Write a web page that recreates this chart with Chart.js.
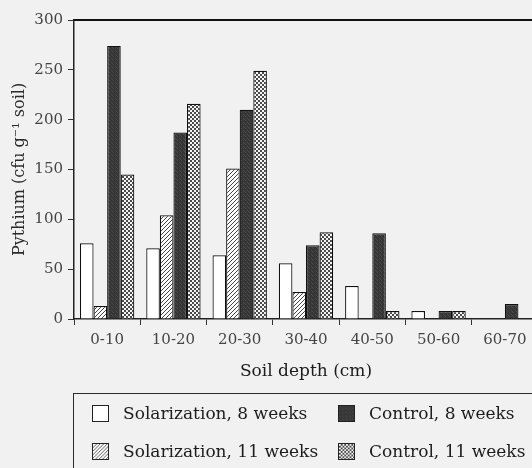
<!DOCTYPE html>
<html><head><meta charset="utf-8">
<script src="https://cdn.jsdelivr.net/npm/chart.js@4"></script>
<style>
html,body{margin:0;padding:0;background:#f1f1f1;overflow:hidden;width:532px;height:468px;}
#wrap{position:relative;width:532px;height:468px;overflow:hidden;}
#c{position:absolute;left:0;top:0;width:540px;height:468px;}
#legend{position:absolute;left:73px;top:393px;width:520px;height:140px;border:1.5px solid #2a2a2a;box-sizing:border-box;font-family:'DejaVu Serif',serif;font-size:17px;color:#1c1c1c;}
.item{position:absolute;display:flex;align-items:center;white-space:nowrap;height:20px;}
.item canvas{border:1.5px solid #222;box-sizing:border-box;margin-right:14px;width:17px;height:17px;}
</style></head>
<body><div id="wrap"><canvas id="c" width="540" height="468"></canvas><div id="legend"></div></div>
<script>
const categories = ['0-10','10-20','20-30','30-40','40-50','50-60','60-70'];
const seriesLabels = ['Solarization, 8 weeks','Solarization, 11 weeks','Control, 8 weeks','Control, 11 weeks'];
const solar8  = [76, 71, 64, 56, 33, 8, 0];
const solar11 = [13, 104, 151, 27, 0, 0, 0];
const ctrl8   = [274, 187, 210, 74, 86, 8, 15];
const ctrl11  = [145, 216, 249, 87, 8, 8, 0];
const yTicks  = [0, 50, 100, 150, 200, 250, 300];

function tile(draw, n){
  const c=document.createElement('canvas'); c.width=c.height=n;
  const g=c.getContext('2d'); draw(g); return c;
}
const whiteTile = tile(g=>{g.fillStyle='#fff';g.fillRect(0,0,4,4);},4);
const hatchTile = tile(g=>{
  g.fillStyle='#fff';g.fillRect(0,0,4,4);
  g.strokeStyle='#444';g.lineWidth=1;g.beginPath();
  g.moveTo(0,4);g.lineTo(4,0);g.moveTo(-1,1);g.lineTo(1,-1);g.moveTo(3,5);g.lineTo(5,3);g.stroke();
},4);
const darkTile = tile(g=>{
  g.fillStyle='#363636';g.fillRect(0,0,4,4);
  g.fillStyle='#4a4a4a';g.fillRect(1,0,1,1);g.fillRect(3,2,1,1);g.fillRect(0,3,1,1);
},4);
const crossTile = tile(g=>{
  g.fillStyle='#4a4a4a';g.fillRect(0,0,4,4);
  g.fillStyle='#f4f4f4';g.fillRect(0,0,2,2);g.fillRect(2,2,2,2);
},4);
const tiles=[whiteTile,hatchTile,darkTile,crossTile];
const ctx=document.getElementById('c').getContext('2d');
const pats=tiles.map(t=>ctx.createPattern(t,'repeat'));
const values=[solar8,solar11,ctrl8,ctrl11];

const tickFont={family:'DejaVu Serif', size:15};
const topLine={id:'topLine',afterDraw(chart){
  const {ctx,chartArea}=chart; ctx.save(); ctx.strokeStyle='#111'; ctx.lineWidth=2;
  ctx.beginPath(); ctx.moveTo(chartArea.left,chartArea.top); ctx.lineTo(chartArea.right,chartArea.top);
  ctx.lineTo(chartArea.right,chartArea.bottom); ctx.stroke(); ctx.restore();
}};

new Chart(ctx,{
  type:'bar',
  data:{labels:categories,datasets:values.map((v,i)=>({label:seriesLabels[i],data:v,backgroundColor:pats[i],borderColor:'#111',borderWidth:1.2,categoryPercentage:0.82,barPercentage:1.0}))},
  options:{
    responsive:false,animation:false,
    layout:{padding:{left:0,top:20,right:2,bottom:74}},
    plugins:{legend:{display:false},tooltip:{enabled:false}},
    scales:{
      x:{
        ticks:{color:'#444',font:tickFont,padding:6},
        grid:{drawOnChartArea:false,tickLength:6,offset:true,color:'#333'},
        border:{color:'#222',width:1.5},
        title:{display:true,text:'Soil depth (cm)',color:'#1c1c1c',font:{family:'DejaVu Serif',size:17},padding:{top:0,bottom:12}},
        afterFit(s){s.height=75;}
      },
      y:{
        min:0,max:300,
        afterBuildTicks(s){s.ticks=yTicks.map(v=>({value:v}));},
        ticks:{color:'#444',font:tickFont,padding:5},
        grid:{drawOnChartArea:false,tickLength:6,color:'#333'},
        border:{color:'#222',width:1.5},
        title:{display:true,text:'Pythium (cfu g⁻¹ soil)',color:'#2a2a2a',font:{family:'DejaVu Serif',size:16},padding:{top:10,bottom:0}},
        afterFit(s){s.width=74;}
      }
    }
  },
  plugins:[topLine]
});

const leg=document.getElementById('legend');
const pos=[[18,9],[18,47],[264,9],[264,47]];
[0,1,2,3].forEach(i=>{
  const d=document.createElement('div'); d.className='item';
  d.style.left=pos[i][0]+'px'; d.style.top=pos[i][1]+'px';
  const sw=document.createElement('canvas'); sw.width=17; sw.height=17;
  const g=sw.getContext('2d'); g.fillStyle=g.createPattern(tiles[i],'repeat'); g.fillRect(0,0,17,17);
  d.appendChild(sw);
  const s=document.createElement('span'); s.textContent=seriesLabels[i]; d.appendChild(s);
  leg.appendChild(d);
});
</script>
</body></html>
